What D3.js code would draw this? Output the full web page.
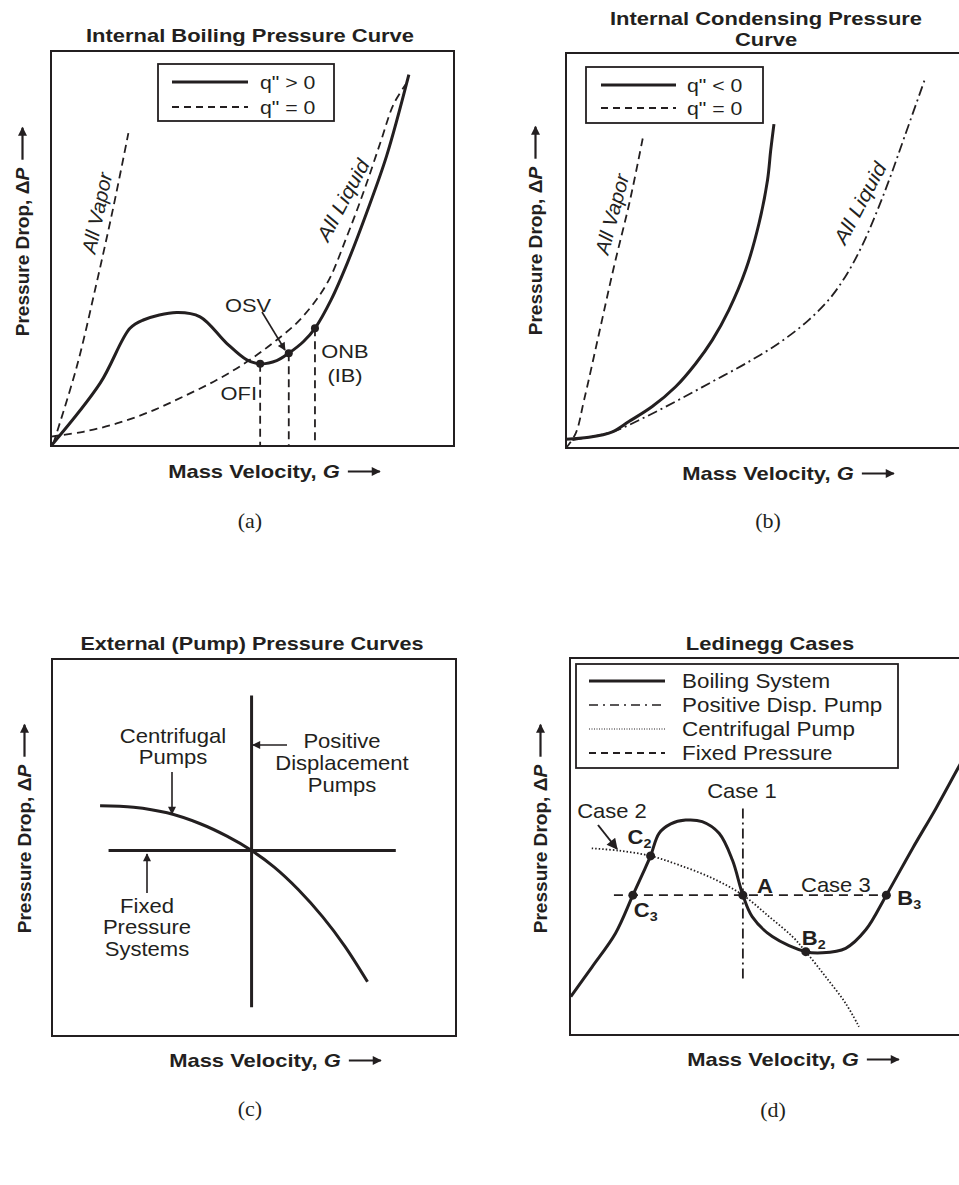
<!DOCTYPE html>
<html>
<head>
<meta charset="utf-8">
<script src="https://cdn.jsdelivr.net/npm/d3@7"></script>
<style>
  body { margin: 0; background: #fff; }
  svg { display: block; }
  text { font-family: "Liberation Sans", Arial, sans-serif; fill: #231f20; }
</style>
</head>
<body>
<svg id="fig"></svg>
<script>
// ---- (a) internal boiling: [G, dP] in relative units 0..100
var boilHeated = [[0,0],[12.2,15.9],[19.6,29.8],[22.9,31.9],[31.2,33.8],[37.0,32.7],[43.6,26.0],
  [48.6,21.8],[51.9,20.8],[56.0,21.6],[59.0,23.5],[62.6,26.4],[65.5,29.8],[69.5,37.0],
  [73.6,46.5],[78.3,59.0],[83.3,73.5],[88.8,94.0]];
var boilLiquid = [[0,2.4],[8.0,3.6],[16.3,5.7],[24.6,8.7],[32.8,12.5],[41.1,16.7],[48.6,21.3],
  [55.2,26.2],[61.8,32.0],[68.4,41.0],[73.4,53.0],[77.8,65.0],[81.8,77.0],[85.0,86.5],[88.0,91.5]];
var boilVapor = [[0.6,0.7],[6.4,20.1],[11.3,41.2],[15.5,60.6],[19.2,79.2]];
var boilMarks = [{name: "OFI", g: 51.9, dp: 20.8}, {name: "OSV", g: 59.0, dp: 23.5}, {name: "ONB", g: 65.5, dp: 29.8}];
var legendA = ['q" > 0', 'q" = 0'];

// ---- (b) internal condensing
var condCooled = [[0,2.2],[5.7,2.7],[11.5,4.1],[15.6,6.7],[21.4,10.5],[27.2,15.5],[32.2,21.4],
  [36.3,27.3],[40.4,34.9],[44.6,45.1],[47.9,56.9],[50.0,67.8],[50.8,75.4],[51.6,82.0]];
var condVapor = [[0,0],[2.4,3.7],[4.5,12.2],[8.2,29.0],[11.9,45.9],[15.9,62.8],[19.2,79.2]];
var condLiquid = [[1.6,2.0],[11.5,4.1],[19.8,7.9],[28.0,12.2],[36.3,16.8],[44.6,21.4],[52.9,26.6],
  [60.0,32.2],[65.5,37.9],[69.8,44.2],[73.6,51.5],[77.2,60.0],[80.6,69.0],[84.0,78.8],[89.0,93.2]];
var legendB = ['q" < 0', 'q" = 0'];

// ---- (c) external pump curves
var pumpCentrifugal = [[11.9,61.1],[20.2,60.7],[28.5,59.2],[36.7,56.3],[43.3,53.0],[49.4,49.2],
  [55.0,44.8],[61.0,38.8],[67.0,31.6],[72.5,23.8],[78.1,14.4]];
var pumpPositive = [[49.4,7.6],[49.4,90.3]];
var pumpFixed = [[14.0,49.2],[85.1,49.2]];

// ---- (d) Ledinegg cases
var ledBoiling = [[0.2,10.2],[5.5,18.1],[11.3,27.0],[15.6,37.1],[17.9,42.5],[20.0,47.5],[22.1,53.5],
  [25.0,56.0],[28.7,57.0],[32.8,56.6],[37.0,53.5],[40.3,46.4],[42.9,37.1],[45.2,31.4],[50.2,26.1],
  [58.5,22.1],[62.6,21.8],[68.4,23.0],[73.4,27.9],[78.5,37.1],[85.0,49.5],[90.8,60.1],[96.5,71.2],[100,77.8]];
var ledCentrifugal = [[5.4,49.5],[12.2,48.9],[20.0,47.5],[27.0,45.1],[35.3,41.6],[42.9,37.1],
  [49.4,31.4],[55.2,26.1],[58.5,22.1],[63.4,15.5],[68.4,8.4],[71.7,2.2]];
var ledPositive = [[42.9,15.0],[42.9,61.0]];
var ledFixed = [[10.9,37.1],[78.5,37.1]];
var ledPoints = [{name: "C", sub: "2", g: 20.0, dp: 47.5}, {name: "C", sub: "3", g: 15.6, dp: 37.1},
  {name: "A", sub: "", g: 42.9, dp: 37.1}, {name: "B", sub: "2", g: 58.5, dp: 22.1},
  {name: "B", sub: "3", g: 78.5, dp: 37.1}];
var legendD = ["Boiling System", "Positive Disp. Pump", "Centrifugal Pump", "Fixed Pressure"];

var INK = "#231f20";
var svg = d3.select("#fig").attr("width", 959).attr("height", 1185);
svg.append("rect").attr("width", 959).attr("height", 1185).attr("fill", "#fff");

var defs = svg.append("defs");
function marker(id, w, h) {
  defs.append("marker").attr("id", id).attr("viewBox", "0 0 10 10")
    .attr("refX", 9).attr("refY", 5).attr("markerUnits", "userSpaceOnUse")
    .attr("markerWidth", w).attr("markerHeight", h).attr("orient", "auto")
    .append("path").attr("d", "M0,0L10,5L0,10Z").attr("fill", INK);
}
marker("axisArrow", 12, 9);
marker("noteArrow", 11, 8);
marker("bigArrow", 14, 11);

function txt(x, y, str, o) {
  o = o || {};
  var t = svg.append("text")
    .attr("transform", "translate(" + x + "," + y + ") rotate(" + (o.rot || 0) + ") scale(" + (o.sx || 1.1) + ",1)")
    .attr("text-anchor", o.anchor || "middle")
    .style("font-size", (o.size || 20) + "px")
    .style("font-weight", o.bold ? "bold" : "normal")
    .style("font-style", o.italic ? "italic" : "normal");
  if (o.dy) t.attr("dy", o.dy);
  t.text(str);
  return t;
}

// bold axis title followed by a long arrow, centred on (cx, cy)
function axisLabel(cx, cy, rot, parts, sx) {
  var outer = svg.append("g").attr("transform", "translate(" + cx + "," + cy + ") rotate(" + rot + ")");
  var inner = outer.append("g");
  var t = inner.append("text").attr("text-anchor", "start")
    .style("font-size", "18px").style("font-weight", "bold");
  parts.forEach(function(p) {
    t.append("tspan").style("font-style", p[1] ? "italic" : "normal").text(p[0]);
  });
  var w = t.node().getComputedTextLength() * sx;
  var gap = 8, arrowLen = 32, total = w + gap + arrowLen;
  inner.attr("transform", "translate(" + (-total / 2) + ",0) scale(" + sx + ",1)");
  outer.append("line")
    .attr("x1", -total / 2 + w + gap).attr("x2", total / 2)
    .attr("y1", -6.5).attr("y2", -6.5)
    .attr("stroke", INK).attr("stroke-width", 2.2)
    .attr("marker-end", "url(#axisArrow)");
}

function panel(left, top, w, h) {
  var sc = {
    x: d3.scaleLinear().domain([0, 100]).range([left, left + w]),
    y: d3.scaleLinear().domain([0, 100]).range([top + h, top])
  };
  svg.append("rect").attr("x", left).attr("y", top).attr("width", w).attr("height", h)
    .attr("fill", "none").attr("stroke", INK).attr("stroke-width", 2);
  return sc;
}

function curve(sc, data, width, dash, smooth) {
  var line = d3.line().x(function(d) { return sc.x(d[0]); }).y(function(d) { return sc.y(d[1]); })
    .curve(smooth === false ? d3.curveLinear : d3.curveCatmullRom.alpha(0.5));
  svg.append("path").datum(data).attr("d", line)
    .attr("fill", "none").attr("stroke", INK).attr("stroke-width", width)
    .attr("stroke-dasharray", dash || null).attr("stroke-linejoin", "round");
}

function arrow(x1, y1, x2, y2, id, width) {
  svg.append("line").attr("x1", x1).attr("y1", y1).attr("x2", x2).attr("y2", y2)
    .attr("stroke", INK).attr("stroke-width", width || 1.6).attr("marker-end", "url(#" + id + ")");
}

function legend(box, rows, styles, lx1, lx2, tx, size) {
  svg.append("rect").attr("x", box[0]).attr("y", box[1]).attr("width", box[2]).attr("height", box[3])
    .attr("fill", "#fff").attr("stroke", INK).attr("stroke-width", 1.8);
  rows.forEach(function(r, i) {
    var yy = styles[i].y;
    svg.append("line").attr("x1", lx1).attr("x2", lx2).attr("y1", yy).attr("y2", yy)
      .attr("stroke", INK).attr("stroke-width", styles[i].w).attr("stroke-dasharray", styles[i].dash || null);
    txt(tx, yy + 7, r, {anchor: "start", size: size, sx: 1.12});
  });
}

// ================= (a) =================
var a = panel(51, 51, 403, 395);
txt(250, 42, "Internal Boiling Pressure Curve", {bold: true, size: 18, sx: 1.22});
curve(a, boilVapor, 1.8, "8,5");
curve(a, boilLiquid, 1.8, "8,5");
curve(a, boilHeated, 3);
boilMarks.forEach(function(m) {
  svg.append("line").attr("x1", a.x(m.g)).attr("x2", a.x(m.g)).attr("y1", a.y(m.dp)).attr("y2", a.y(0))
    .attr("stroke", INK).attr("stroke-width", 1.8).attr("stroke-dasharray", "8,5");
  svg.append("circle").attr("cx", a.x(m.g)).attr("cy", a.y(m.dp)).attr("r", 4).attr("fill", INK);
});
legend([158, 64, 176, 57], legendA, [{y: 82, w: 3}, {y: 107, w: 1.8, dash: "7,5"}], 172, 248, 260, 19);
txt(97, 213, "All Vapor", {rot: -78, italic: true, size: 20, sx: 1.02, dy: "0.35em"});
txt(343, 200, "All Liquid", {rot: -62, italic: true, size: 20, sx: 1.1, dy: "0.35em"});
txt(248, 312, "OSV", {size: 19, sx: 1.15});
arrow(262, 312, 285, 350, "noteArrow", 1.6);
txt(257, 400, "OFI", {size: 19, sx: 1.15, anchor: "end"});
txt(345, 358, "ONB", {size: 19, sx: 1.15});
txt(345, 382, "(IB)", {size: 19, sx: 1.15});
axisLabel(274, 478, 0, [["Mass Velocity, "], ["G", true]], 1.22);
axisLabel(29, 232, -90, [["Pressure Drop, \u0394"], ["P", true]], 1.06);
svg.append("text").attr("x", 250).attr("y", 528).attr("text-anchor", "middle")
  .style("font-family", "'Liberation Serif', 'Times New Roman', serif").style("font-size", "22px").text("(a)");

// ================= (b) =================
var b = panel(566, 53, 403, 395);
txt(766, 25, "Internal Condensing Pressure", {bold: true, size: 18, sx: 1.22});
txt(766, 46, "Curve", {bold: true, size: 18, sx: 1.22});
curve(b, condVapor, 1.8, "8,5");
curve(b, condLiquid, 1.8, "10,4,2,4");
curve(b, condCooled, 3);
legend([586, 67, 177, 56], legendB, [{y: 85, w: 3}, {y: 108, w: 1.8, dash: "7,5"}], 601, 676, 687, 19);
txt(612, 214, "All Vapor", {rot: -75, italic: true, size: 20, sx: 1.02, dy: "0.35em"});
txt(860, 203, "All Liquid", {rot: -62, italic: true, size: 20, sx: 1.1, dy: "0.35em"});
axisLabel(788, 480, 0, [["Mass Velocity, "], ["G", true]], 1.22);
axisLabel(542, 231, -90, [["Pressure Drop, \u0394"], ["P", true]], 1.06);
svg.append("text").attr("x", 768).attr("y", 528).attr("text-anchor", "middle")
  .style("font-family", "'Liberation Serif', 'Times New Roman', serif").style("font-size", "22px").text("(b)");

// ================= (c) =================
var c = panel(52, 659, 404, 377);
txt(252, 650, "External (Pump) Pressure Curves", {bold: true, size: 18, sx: 1.2});
curve(c, pumpPositive, 3, null, false);
curve(c, pumpFixed, 3, null, false);
curve(c, pumpCentrifugal, 3);
txt(173, 743, "Centrifugal", {size: 21, sx: 1.05});
txt(173, 764, "Pumps", {size: 21, sx: 1.05});
arrow(172, 772, 172, 814, "noteArrow", 1.6);
txt(342, 748, "Positive", {size: 21, sx: 1.05});
txt(342, 770, "Displacement", {size: 21, sx: 1.05});
txt(342, 792, "Pumps", {size: 21, sx: 1.05});
arrow(287, 745, 253, 745, "noteArrow", 1.6);
txt(147, 913, "Fixed", {size: 21, sx: 1.05});
txt(147, 934, "Pressure", {size: 21, sx: 1.05});
txt(147, 956, "Systems", {size: 21, sx: 1.05});
arrow(147, 893, 147, 854, "noteArrow", 1.6);
axisLabel(275, 1067, 0, [["Mass Velocity, "], ["G", true]], 1.22);
axisLabel(31, 829, -90, [["Pressure Drop, \u0394"], ["P", true]], 1.06);
svg.append("text").attr("x", 250).attr("y", 1116).attr("text-anchor", "middle")
  .style("font-family", "'Liberation Serif', 'Times New Roman', serif").style("font-size", "22px").text("(c)");

// ================= (d) =================
var d = panel(570, 658, 403, 377);
txt(770, 650, "Ledinegg Cases", {bold: true, size: 18, sx: 1.22});
curve(d, ledPositive, 1.8, "10,4,2,4", false);
curve(d, ledFixed, 1.8, "9,6", false);
curve(d, ledCentrifugal, 1.8, "1.5,2");
curve(d, ledBoiling, 3);
legend([576, 664, 322, 104], legendD,
  [{y: 681, w: 3}, {y: 705, w: 1.6, dash: "9,5,2,5"}, {y: 729, w: 1.2, dash: "1,1.5"}, {y: 753, w: 1.8, dash: "7,5"}],
  589, 665, 682, 20);

// point labels: offsets from each dot
var ledLabelPos = {C2: [-23, -12], C3: [1, 22], A: [14, -2], B2: [-4, -7], B3: [11, 10]};
ledPoints.forEach(function(p) {
  svg.append("circle").attr("cx", d.x(p.g)).attr("cy", d.y(p.dp)).attr("r", 4.5).attr("fill", INK);
  var off = ledLabelPos[p.name + p.sub];
  var t = txt(d.x(p.g) + off[0], d.y(p.dp) + off[1], p.name, {bold: true, size: 20, sx: 1.1, anchor: "start"});
  if (p.sub) t.append("tspan").attr("dy", 4).style("font-size", "13px").text(p.sub);
});
txt(742, 798, "Case 1", {size: 20, sx: 1.1});
txt(612, 818, "Case 2", {size: 20, sx: 1.1});
arrow(598, 825, 617, 849, "bigArrow", 2);
txt(801, 892, "Case 3", {size: 20, sx: 1.1, anchor: "start"});
axisLabel(793, 1066, 0, [["Mass Velocity, "], ["G", true]], 1.22);
axisLabel(547, 829, -90, [["Pressure Drop, \u0394"], ["P", true]], 1.06);
svg.append("text").attr("x", 773).attr("y", 1117).attr("text-anchor", "middle")
  .style("font-family", "'Liberation Serif', 'Times New Roman', serif").style("font-size", "22px").text("(d)");
</script>
</body>
</html>
